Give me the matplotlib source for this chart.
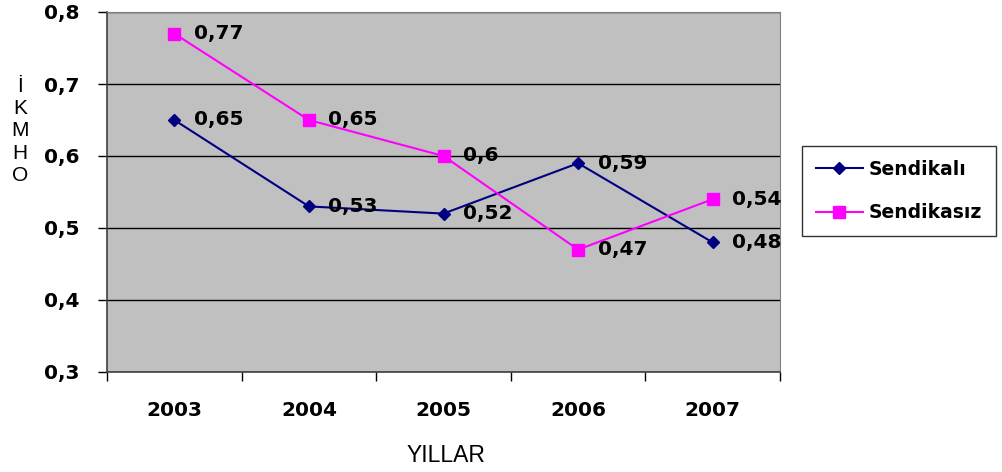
import matplotlib
matplotlib.use("Agg")
import matplotlib.pyplot as plt
from matplotlib.ticker import FixedLocator, NullFormatter

years = ["2003", "2004", "2005", "2006", "2007"]
sendikali = [0.65, 0.53, 0.52, 0.59, 0.48]
sendikasiz = [0.77, 0.65, 0.60, 0.47, 0.54]
yticks = [0.3, 0.4, 0.5, 0.6, 0.7, 0.8]


def fmt(v):
    return f"{v:g}".replace(".", ",")


W, H = 1003, 472
fig = plt.figure(figsize=(W / 100, H / 100), dpi=100)
ax = fig.add_axes([107 / W, 1 - 372 / H, 673 / W, 360 / H])
ax.set_facecolor("#C0C0C0")

bold = dict(family="DejaVu Sans", weight="bold", size=14.5)

x = list(range(len(years)))
ax.plot(x, sendikali, color="#000080", marker="D", markersize=6, lw=1.5,
        label="Sendikalı", zorder=3)
ax.plot(x, sendikasiz, color="#FF00FF", marker="s", markersize=8, lw=1.5,
        label="Sendikasız", zorder=3)

# value labels to the right of each point
for series in (sendikali, sendikasiz):
    for xi, v in zip(x, series):
        ax.annotate(fmt(v), (xi, v), xytext=(14, 0), textcoords="offset points",
                    va="center", ha="left", **bold)

ax.set_xlim(-0.5, 4.5)
ax.set_ylim(0.3, 0.8)
ax.set_yticks(yticks)
ax.set_yticklabels([fmt(t) for t in yticks], **bold)
ax.yaxis.grid(True, color="black", lw=1)
ax.set_axisbelow(True)

ax.set_xticks(x)
ax.set_xticklabels(years, **bold)
ax.xaxis.set_minor_locator(FixedLocator([i - 0.5 for i in range(6)]))
ax.xaxis.set_minor_formatter(NullFormatter())
ax.tick_params(axis="x", which="major", length=0, pad=21)
ax.tick_params(axis="x", which="minor", length=6.5, width=1, color="black")
ax.tick_params(axis="y", length=6.5, width=1, color="black", pad=13)

for side in ["top", "right"]:
    ax.spines[side].set_color("#808080")
for side in ["left", "bottom"]:
    ax.spines[side].set_color("#404040")
    ax.spines[side].set_linewidth(1.2)

fig.text(20 / W, 1 - 131 / H, "İ\nK\nM\nH\nO", family="Liberation Sans",
         size=15, ha="center", va="center", linespacing=1.22)
fig.text(446 / W, 1 - 456 / H, "YILLAR", family="Liberation Sans",
         size=16.5, ha="center", va="center")

leg = fig.legend(loc="center left",
                 bbox_to_anchor=(802 / W, 1 - 191 / H),
                 prop=dict(family="DejaVu Sans", weight="bold", size=13.5),
                 frameon=True, fancybox=False, handlelength=2.5,
                 borderpad=0.75, labelspacing=1.3, handletextpad=0.3,
                 borderaxespad=0)
leg.get_frame().set_edgecolor("black")
leg.get_frame().set_linewidth(1)

fig.savefig("out.png", dpi=100)
